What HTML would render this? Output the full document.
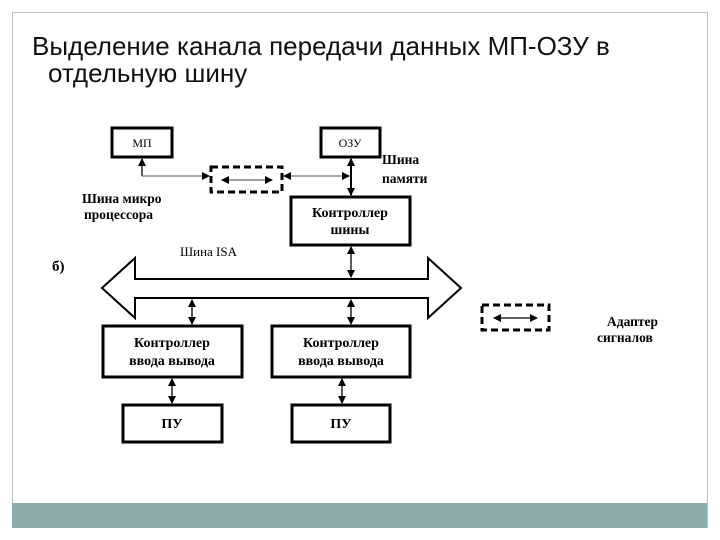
<!DOCTYPE html>
<html><head><meta charset="utf-8"><style>
body{margin:0;width:720px;height:540px;background:#fff;overflow:hidden;position:relative;font-family:"Liberation Sans","Noto Sans CJK SC",sans-serif}
.frame{position:absolute;left:12px;top:12px;width:694px;height:515px;border:1px solid #b8c4c4;border-bottom:none}
.bar{position:absolute;left:12px;top:503px;width:695px;height:25px;background:#8cabab}
.t{position:absolute;font-size:26px;color:#111;white-space:nowrap}
</style></head><body>
<div class="frame"></div>
<div class="bar"></div>
<div class="t" style="left:32px;top:31px">Выделение канала передачи данных МП-ОЗУ в</div>
<div class="t" style="left:48px;top:58px">отдельную шину</div>
<svg width="720" height="540" style="position:absolute;left:0;top:0" font-family="Liberation Serif,serif">
<defs>
<marker id="a" markerWidth="8" markerHeight="8" refX="7" refY="4" orient="auto-start-reverse" markerUnits="userSpaceOnUse"><path d="M0,0L8,4L0,8z" fill="#000"/></marker>
</defs>
<g fill="none" stroke="#000" stroke-width="3">
<rect x="112" y="128" width="60" height="29"/>
<rect x="321" y="128" width="59" height="29"/>
<rect x="291" y="197" width="119" height="48"/>
<rect x="103" y="326" width="139" height="51"/>
<rect x="272" y="326" width="138" height="51"/>
<rect x="123" y="405" width="99" height="37"/>
<rect x="292" y="405" width="98" height="37"/>
<rect x="211" y="167" width="71" height="25" stroke-dasharray="7,4"/>
<rect x="482" y="305" width="67" height="25" stroke-dasharray="7,4"/>
</g>
<path d="M102,288 L135,258 L135,279 L428,279 L428,258 L461,288 L428,318 L428,298 L135,298 L135,318 Z" fill="#fff" stroke="#000" stroke-width="2"/>
<g stroke="#000" stroke-width="1.3" fill="none">
<path d="M142,176 L142,159" marker-end="url(#a)"/>
<path d="M142,176 L209,176" marker-end="url(#a)" stroke="#777"/>
<path d="M284,176 L349,176" marker-start="url(#a)" marker-end="url(#a)" stroke="#777"/>
<path d="M222,180 L272,180" marker-start="url(#a)" marker-end="url(#a)" stroke="#666"/>
<path d="M351,159 L351,195" marker-start="url(#a)" marker-end="url(#a)" stroke-width="2"/>
<path d="M351,247 L351,277" marker-start="url(#a)" marker-end="url(#a)"/>
<path d="M192,300 L192,324" marker-start="url(#a)" marker-end="url(#a)"/>
<path d="M351,300 L351,324" marker-start="url(#a)" marker-end="url(#a)"/>
<path d="M172,379 L172,403" marker-start="url(#a)" marker-end="url(#a)"/>
<path d="M342,379 L342,403" marker-start="url(#a)" marker-end="url(#a)"/>
<path d="M494,318 L537,318" marker-start="url(#a)" marker-end="url(#a)"/>
</g>
<g font-size="12" fill="#000" text-anchor="middle">
<text x="142" y="147">МП</text>
<text x="350" y="147">ОЗУ</text>
</g>
<text x="180" y="256" font-size="13" fill="#000">Шина ISA</text>
<g font-size="14" font-weight="bold" fill="#000" text-anchor="middle">
<text x="350" y="217">Контроллер</text>
<text x="350" y="234">шины</text>
<text x="172" y="347">Контроллер</text>
<text x="172" y="365">ввода вывода</text>
<text x="341" y="347">Контроллер</text>
<text x="341" y="365">ввода вывода</text>
<text x="172" y="428">ПУ</text>
<text x="341" y="428">ПУ</text>
</g>
<g font-size="13.5" font-weight="bold" fill="#000">
<text x="82" y="203">Шина микро</text>
<text x="84" y="219">процессора</text>
<text x="382" y="164">Шина</text>
<text x="382" y="183">памяти</text>
<text x="52" y="271" font-size="15">б)</text>
<text x="607" y="326">Адаптер</text>
<text x="597" y="342">сигналов</text>
</g>
</svg>
</body></html>
